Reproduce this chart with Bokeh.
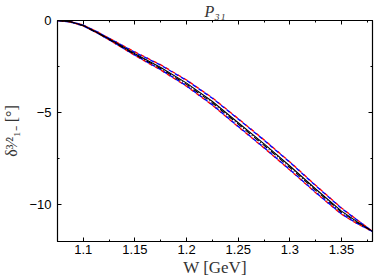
from bokeh.plotting import figure
from bokeh.embed import file_html
from bokeh.resources import INLINE
from bokeh.models import LinearAxis, FixedTicker, CustomJSTickFormatter, Range1d

# data
W = [1.075, 1.0875, 1.10, 1.1125, 1.125, 1.1375, 1.15, 1.175, 1.20, 1.225, 1.25, 1.275, 1.30, 1.325, 1.35, 1.365, 1.38]
central = [0.0, -0.07, -0.27, -0.62, -1.0, -1.4, -1.8, -2.55, -3.4, -4.4, -5.55, -6.7, -7.9, -9.15, -10.35, -10.92, -11.45]
central2 = [0.0, -0.07, -0.28, -0.64, -1.03, -1.44, -1.85, -2.61, -3.47, -4.48, -5.63, -6.78, -7.98, -9.22, -10.41, -10.96, -11.45]
red_up = [0.0, -0.06, -0.25, -0.59, -0.96, -1.34, -1.71, -2.41, -3.23, -4.2, -5.33, -6.48, -7.68, -8.95, -10.18, -10.82, -11.45]
red_low = [0.0, -0.08, -0.29, -0.65, -1.05, -1.47, -1.9, -2.69, -3.57, -4.6, -5.77, -6.92, -8.12, -9.35, -10.52, -11.03, -11.45]
blue_up = [0.0, -0.06, -0.25, -0.59, -0.97, -1.35, -1.73, -2.43, -3.25, -4.22, -5.35, -6.5, -7.7, -8.97, -10.2, -10.83, -11.45]
blue_low = [0.0, -0.08, -0.29, -0.65, -1.04, -1.46, -1.88, -2.67, -3.55, -4.58, -5.75, -6.9, -8.1, -9.33, -10.5, -11.02, -11.45]

x_ticks = [1.1, 1.15, 1.2, 1.25, 1.3, 1.35]
x_minor = [1.1, 1.125, 1.15, 1.175, 1.2, 1.225, 1.25, 1.275, 1.3, 1.325, 1.35, 1.375]
y_ticks = [-10, -5, 0]
y_minor = [-10, -7.5, -5, -2.5, 0]

p = figure(width=366, height=276, output_backend="svg", toolbar_location=None,
           x_range=Range1d(1.075, 1.38), y_range=Range1d(-12, 0),
           frame_width=315, frame_height=221,
           min_border_left=49, min_border_top=0, min_border_right=2, min_border_bottom=10)
p.grid.visible = False
p.outline_line_color = "black"
p.outline_line_width = 1.2
p.background_fill_color = "white"
p.border_fill_color = "white"

p.title.text = "P₃₁"
p.title.align = "center"
p.title.text_font = "Liberation Serif"
p.title.text_font_style = "italic"
p.title.text_font_size = "16px"
p.title.text_color = "#333333"
p.title.standoff = 1

def style(ax, ticks, minor):
    ax.ticker = FixedTicker(ticks=ticks, minor_ticks=minor)
    ax.major_tick_in = 4
    ax.major_tick_out = 0
    ax.minor_tick_in = 2
    ax.minor_tick_out = 0
    ax.axis_line_color = "black"
    ax.major_tick_line_color = "black"
    ax.minor_tick_line_color = "black"
    ax.major_label_text_font = "Liberation Sans"
    ax.major_label_text_font_size = "13px"
    ax.major_label_text_color = "black"

for ax in p.xaxis:
    style(ax, x_ticks, x_minor)
    ax.axis_label = "W [GeV]"
    ax.axis_label_text_font = "Liberation Serif"
    ax.axis_label_text_font_style = "normal"
    ax.axis_label_text_font_size = "17px"
    ax.axis_label_text_color = "#333333"
    ax.axis_label_standoff = 1
    ax.major_label_standoff = 3
for ax in p.yaxis:
    style(ax, y_ticks, y_minor)
    ax.axis_label = "δ³⁄²₁₋ [°]"
    ax.axis_label_text_font = "Liberation Serif"
    ax.axis_label_text_font_style = "normal"
    ax.axis_label_text_font_size = "16px"
    ax.axis_label_text_color = "#333333"
    ax.axis_label_standoff = 6
    ax.major_label_standoff = 6

ax_r = LinearAxis(formatter=CustomJSTickFormatter(code="return ''"))
style(ax_r, y_ticks, y_minor)
ax_r.major_label_standoff = 0
p.add_layout(ax_r, "right")
ax_t = LinearAxis(formatter=CustomJSTickFormatter(code="return ''"))
style(ax_t, x_ticks, x_minor)
ax_t.major_label_standoff = 0
p.add_layout(ax_t, "above")

p.line(W, red_up, line_color="red", line_width=1.4, line_dash="4 3")
p.line(W, blue_up, line_color="blue", line_width=1.4, line_dash="4 3", line_dash_offset=3)
p.line(W, red_low, line_color="red", line_width=1.4, line_dash="4 3", line_dash_offset=3)
p.line(W, blue_low, line_color="blue", line_width=1.4, line_dash="4 3")
p.line(W, central2, line_color="black", line_width=1.1, line_dash="6 2 1 2")
p.line(W, central, line_color="black", line_width=1.1)

open("out.html", "w").write(file_html(p, INLINE))
